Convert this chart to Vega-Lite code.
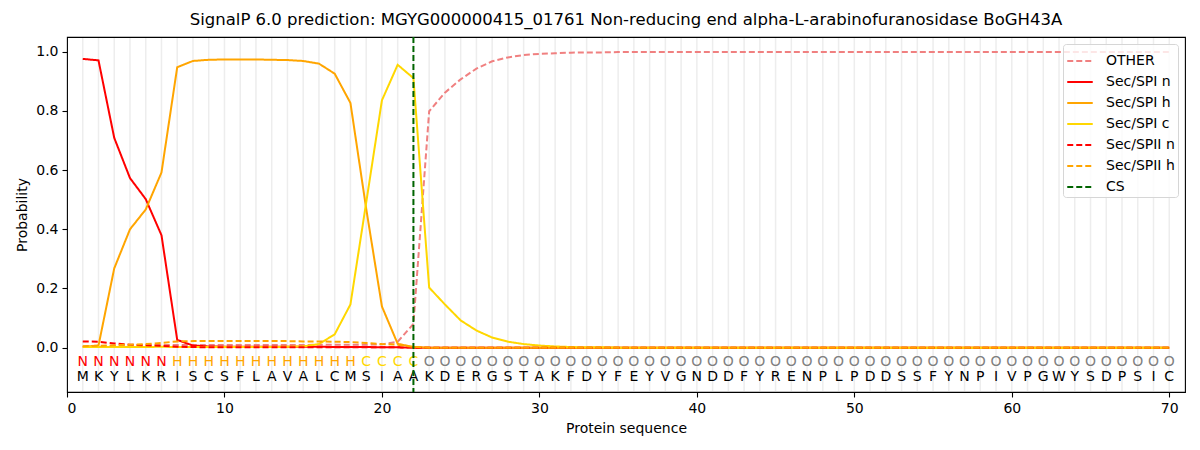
{
  "$schema": "https://vega.github.io/schema/vega-lite/v6.json",
  "width": 1118,
  "height": 355,
  "autosize": {"type": "none"},
  "padding": {"left": 67, "top": 37, "right": 15, "bottom": 58},
  "background": "white",
  "config": {
    "font": "DejaVu Sans",
    "view": {"stroke": "black", "strokeWidth": 1.1},
    "axis": {
      "domain": false,
      "grid": false,
      "labelFont": "DejaVu Sans",
      "labelFontSize": 14,
      "labelColor": "black",
      "titleFont": "DejaVu Sans",
      "titleFontSize": 14,
      "titleFontWeight": "normal",
      "titleColor": "black",
      "tickColor": "black",
      "tickSize": 5,
      "tickWidth": 1.1,
      "labelPadding": 4
    },
    "legend": {
      "title": null,
      "orient": "top-right",
      "offset": 7,
      "padding": 3,
      "strokeColor": "#d6d6d6",
      "cornerRadius": 3,
      "fillColor": "rgba(255,255,255,0.8)",
      "labelFont": "DejaVu Sans",
      "labelFontSize": 14,
      "labelColor": "black",
      "labelOffset": 12,
      "symbolType": "stroke",
      "symbolSize": 650,
      "symbolStrokeWidth": 2,
      "rowPadding": 0
    }
  },
  "title": {
    "text": "SignalP 6.0 prediction: MGYG000000415_01761 Non-reducing end alpha-L-arabinofuranosidase BoGH43A",
    "font": "DejaVu Sans",
    "fontSize": 16.5,
    "fontWeight": "normal",
    "color": "black",
    "anchor": "middle",
    "offset": 8
  },
  "datasets": {
    "residues": [
      {"pos": 1, "aa": "M", "cls": "N", "OTHER": 0.003, "Sec/SPI n": 0.976, "Sec/SPI h": 0.003, "Sec/SPI c": 0.002, "Sec/SPII n": 0.021, "Sec/SPII h": 0.005},
      {"pos": 2, "aa": "K", "cls": "N", "OTHER": 0.004, "Sec/SPI n": 0.971, "Sec/SPI h": 0.007, "Sec/SPI c": 0.002, "Sec/SPII n": 0.020, "Sec/SPII h": 0.006},
      {"pos": 3, "aa": "Y", "cls": "N", "OTHER": 0.006, "Sec/SPI n": 0.709, "Sec/SPI h": 0.268, "Sec/SPI c": 0.002, "Sec/SPII n": 0.014, "Sec/SPII h": 0.008},
      {"pos": 4, "aa": "L", "cls": "N", "OTHER": 0.007, "Sec/SPI n": 0.573, "Sec/SPI h": 0.400, "Sec/SPI c": 0.002, "Sec/SPII n": 0.010, "Sec/SPII h": 0.010},
      {"pos": 5, "aa": "K", "cls": "N", "OTHER": 0.008, "Sec/SPI n": 0.502, "Sec/SPI h": 0.467, "Sec/SPI c": 0.002, "Sec/SPII n": 0.008, "Sec/SPII h": 0.012},
      {"pos": 6, "aa": "R", "cls": "N", "OTHER": 0.009, "Sec/SPI n": 0.380, "Sec/SPI h": 0.592, "Sec/SPI c": 0.003, "Sec/SPII n": 0.006, "Sec/SPII h": 0.016},
      {"pos": 7, "aa": "I", "cls": "H", "OTHER": 0.009, "Sec/SPI n": 0.026, "Sec/SPI h": 0.948, "Sec/SPI c": 0.002, "Sec/SPII n": 0.003, "Sec/SPII h": 0.021},
      {"pos": 8, "aa": "S", "cls": "H", "OTHER": 0.009, "Sec/SPI n": 0.007, "Sec/SPI h": 0.969, "Sec/SPI c": 0.002, "Sec/SPII n": 0.002, "Sec/SPII h": 0.022},
      {"pos": 9, "aa": "C", "cls": "H", "OTHER": 0.009, "Sec/SPI n": 0.004, "Sec/SPI h": 0.973, "Sec/SPI c": 0.002, "Sec/SPII n": 0.001, "Sec/SPII h": 0.022},
      {"pos": 10, "aa": "S", "cls": "H", "OTHER": 0.009, "Sec/SPI n": 0.003, "Sec/SPI h": 0.974, "Sec/SPI c": 0.002, "Sec/SPII n": 0.001, "Sec/SPII h": 0.022},
      {"pos": 11, "aa": "F", "cls": "H", "OTHER": 0.009, "Sec/SPI n": 0.003, "Sec/SPI h": 0.974, "Sec/SPI c": 0.002, "Sec/SPII n": 0.001, "Sec/SPII h": 0.022},
      {"pos": 12, "aa": "L", "cls": "H", "OTHER": 0.009, "Sec/SPI n": 0.003, "Sec/SPI h": 0.974, "Sec/SPI c": 0.002, "Sec/SPII n": 0.001, "Sec/SPII h": 0.022},
      {"pos": 13, "aa": "A", "cls": "H", "OTHER": 0.009, "Sec/SPI n": 0.003, "Sec/SPI h": 0.973, "Sec/SPI c": 0.002, "Sec/SPII n": 0.001, "Sec/SPII h": 0.022},
      {"pos": 14, "aa": "V", "cls": "H", "OTHER": 0.009, "Sec/SPI n": 0.003, "Sec/SPI h": 0.972, "Sec/SPI c": 0.003, "Sec/SPII n": 0.001, "Sec/SPII h": 0.022},
      {"pos": 15, "aa": "A", "cls": "H", "OTHER": 0.009, "Sec/SPI n": 0.003, "Sec/SPI h": 0.969, "Sec/SPI c": 0.004, "Sec/SPII n": 0.001, "Sec/SPII h": 0.021},
      {"pos": 16, "aa": "L", "cls": "H", "OTHER": 0.010, "Sec/SPI n": 0.003, "Sec/SPI h": 0.960, "Sec/SPI c": 0.012, "Sec/SPII n": 0.001, "Sec/SPII h": 0.021},
      {"pos": 17, "aa": "C", "cls": "H", "OTHER": 0.010, "Sec/SPI n": 0.002, "Sec/SPI h": 0.926, "Sec/SPI c": 0.045, "Sec/SPII n": 0.001, "Sec/SPII h": 0.020},
      {"pos": 18, "aa": "M", "cls": "H", "OTHER": 0.010, "Sec/SPI n": 0.002, "Sec/SPI h": 0.827, "Sec/SPI c": 0.146, "Sec/SPII n": 0.001, "Sec/SPII h": 0.019},
      {"pos": 19, "aa": "S", "cls": "C", "OTHER": 0.010, "Sec/SPI n": 0.002, "Sec/SPI h": 0.470, "Sec/SPI c": 0.490, "Sec/SPII n": 0.001, "Sec/SPII h": 0.016},
      {"pos": 20, "aa": "I", "cls": "C", "OTHER": 0.011, "Sec/SPI n": 0.001, "Sec/SPI h": 0.139, "Sec/SPI c": 0.836, "Sec/SPII n": 0.001, "Sec/SPII h": 0.012},
      {"pos": 21, "aa": "A", "cls": "C", "OTHER": 0.020, "Sec/SPI n": 0.001, "Sec/SPI h": 0.013, "Sec/SPI c": 0.956, "Sec/SPII n": 0.001, "Sec/SPII h": 0.010},
      {"pos": 22, "aa": "A", "cls": "C", "OTHER": 0.080, "Sec/SPI n": 0.000, "Sec/SPI h": 0.002, "Sec/SPI c": 0.911, "Sec/SPII n": 0.000, "Sec/SPII h": 0.002},
      {"pos": 23, "aa": "K", "cls": "O", "OTHER": 0.799, "Sec/SPI n": 0, "Sec/SPI h": 0, "Sec/SPI c": 0.203, "Sec/SPII n": 0, "Sec/SPII h": 0},
      {"pos": 24, "aa": "D", "cls": "O", "OTHER": 0.862, "Sec/SPI n": 0, "Sec/SPI h": 0, "Sec/SPI c": 0.146, "Sec/SPII n": 0, "Sec/SPII h": 0},
      {"pos": 25, "aa": "E", "cls": "O", "OTHER": 0.907, "Sec/SPI n": 0, "Sec/SPI h": 0, "Sec/SPI c": 0.092, "Sec/SPII n": 0, "Sec/SPII h": 0},
      {"pos": 26, "aa": "R", "cls": "O", "OTHER": 0.943, "Sec/SPI n": 0, "Sec/SPI h": 0, "Sec/SPI c": 0.058, "Sec/SPII n": 0, "Sec/SPII h": 0},
      {"pos": 27, "aa": "G", "cls": "O", "OTHER": 0.968, "Sec/SPI n": 0, "Sec/SPI h": 0, "Sec/SPI c": 0.034, "Sec/SPII n": 0, "Sec/SPII h": 0},
      {"pos": 28, "aa": "S", "cls": "O", "OTHER": 0.981, "Sec/SPI n": 0, "Sec/SPI h": 0, "Sec/SPI c": 0.020, "Sec/SPII n": 0, "Sec/SPII h": 0},
      {"pos": 29, "aa": "T", "cls": "O", "OTHER": 0.989, "Sec/SPI n": 0, "Sec/SPI h": 0, "Sec/SPI c": 0.012, "Sec/SPII n": 0, "Sec/SPII h": 0},
      {"pos": 30, "aa": "A", "cls": "O", "OTHER": 0.993, "Sec/SPI n": 0, "Sec/SPI h": 0, "Sec/SPI c": 0.007, "Sec/SPII n": 0, "Sec/SPII h": 0},
      {"pos": 31, "aa": "K", "cls": "O", "OTHER": 0.995, "Sec/SPI n": 0, "Sec/SPI h": 0, "Sec/SPI c": 0.004, "Sec/SPII n": 0, "Sec/SPII h": 0},
      {"pos": 32, "aa": "F", "cls": "O", "OTHER": 0.997, "Sec/SPI n": 0, "Sec/SPI h": 0, "Sec/SPI c": 0.002, "Sec/SPII n": 0, "Sec/SPII h": 0},
      {"pos": 33, "aa": "D", "cls": "O", "OTHER": 0.998, "Sec/SPI n": 0, "Sec/SPI h": 0, "Sec/SPI c": 0.001, "Sec/SPII n": 0, "Sec/SPII h": 0},
      {"pos": 34, "aa": "Y", "cls": "O", "OTHER": 0.998, "Sec/SPI n": 0, "Sec/SPI h": 0, "Sec/SPI c": 0.001, "Sec/SPII n": 0, "Sec/SPII h": 0},
      {"pos": 35, "aa": "F", "cls": "O", "OTHER": 0.999, "Sec/SPI n": 0, "Sec/SPI h": 0, "Sec/SPI c": 0, "Sec/SPII n": 0, "Sec/SPII h": 0},
      {"pos": 36, "aa": "E", "cls": "O", "OTHER": 0.999, "Sec/SPI n": 0, "Sec/SPI h": 0, "Sec/SPI c": 0, "Sec/SPII n": 0, "Sec/SPII h": 0},
      {"pos": 37, "aa": "Y", "cls": "O", "OTHER": 0.999, "Sec/SPI n": 0, "Sec/SPI h": 0, "Sec/SPI c": 0, "Sec/SPII n": 0, "Sec/SPII h": 0},
      {"pos": 38, "aa": "V", "cls": "O", "OTHER": 0.999, "Sec/SPI n": 0, "Sec/SPI h": 0, "Sec/SPI c": 0, "Sec/SPII n": 0, "Sec/SPII h": 0},
      {"pos": 39, "aa": "G", "cls": "O", "OTHER": 0.999, "Sec/SPI n": 0, "Sec/SPI h": 0, "Sec/SPI c": 0, "Sec/SPII n": 0, "Sec/SPII h": 0},
      {"pos": 40, "aa": "N", "cls": "O", "OTHER": 0.999, "Sec/SPI n": 0, "Sec/SPI h": 0, "Sec/SPI c": 0, "Sec/SPII n": 0, "Sec/SPII h": 0},
      {"pos": 41, "aa": "D", "cls": "O", "OTHER": 0.999, "Sec/SPI n": 0, "Sec/SPI h": 0, "Sec/SPI c": 0, "Sec/SPII n": 0, "Sec/SPII h": 0},
      {"pos": 42, "aa": "D", "cls": "O", "OTHER": 0.999, "Sec/SPI n": 0, "Sec/SPI h": 0, "Sec/SPI c": 0, "Sec/SPII n": 0, "Sec/SPII h": 0},
      {"pos": 43, "aa": "F", "cls": "O", "OTHER": 0.999, "Sec/SPI n": 0, "Sec/SPI h": 0, "Sec/SPI c": 0, "Sec/SPII n": 0, "Sec/SPII h": 0},
      {"pos": 44, "aa": "Y", "cls": "O", "OTHER": 0.999, "Sec/SPI n": 0, "Sec/SPI h": 0, "Sec/SPI c": 0, "Sec/SPII n": 0, "Sec/SPII h": 0},
      {"pos": 45, "aa": "R", "cls": "O", "OTHER": 0.999, "Sec/SPI n": 0, "Sec/SPI h": 0, "Sec/SPI c": 0, "Sec/SPII n": 0, "Sec/SPII h": 0},
      {"pos": 46, "aa": "E", "cls": "O", "OTHER": 0.999, "Sec/SPI n": 0, "Sec/SPI h": 0, "Sec/SPI c": 0, "Sec/SPII n": 0, "Sec/SPII h": 0},
      {"pos": 47, "aa": "N", "cls": "O", "OTHER": 0.999, "Sec/SPI n": 0, "Sec/SPI h": 0, "Sec/SPI c": 0, "Sec/SPII n": 0, "Sec/SPII h": 0},
      {"pos": 48, "aa": "P", "cls": "O", "OTHER": 0.999, "Sec/SPI n": 0, "Sec/SPI h": 0, "Sec/SPI c": 0, "Sec/SPII n": 0, "Sec/SPII h": 0},
      {"pos": 49, "aa": "L", "cls": "O", "OTHER": 0.999, "Sec/SPI n": 0, "Sec/SPI h": 0, "Sec/SPI c": 0, "Sec/SPII n": 0, "Sec/SPII h": 0},
      {"pos": 50, "aa": "P", "cls": "O", "OTHER": 0.999, "Sec/SPI n": 0, "Sec/SPI h": 0, "Sec/SPI c": 0, "Sec/SPII n": 0, "Sec/SPII h": 0},
      {"pos": 51, "aa": "D", "cls": "O", "OTHER": 0.999, "Sec/SPI n": 0, "Sec/SPI h": 0, "Sec/SPI c": 0, "Sec/SPII n": 0, "Sec/SPII h": 0},
      {"pos": 52, "aa": "D", "cls": "O", "OTHER": 0.999, "Sec/SPI n": 0, "Sec/SPI h": 0, "Sec/SPI c": 0, "Sec/SPII n": 0, "Sec/SPII h": 0},
      {"pos": 53, "aa": "S", "cls": "O", "OTHER": 0.999, "Sec/SPI n": 0, "Sec/SPI h": 0, "Sec/SPI c": 0, "Sec/SPII n": 0, "Sec/SPII h": 0},
      {"pos": 54, "aa": "S", "cls": "O", "OTHER": 0.999, "Sec/SPI n": 0, "Sec/SPI h": 0, "Sec/SPI c": 0, "Sec/SPII n": 0, "Sec/SPII h": 0},
      {"pos": 55, "aa": "F", "cls": "O", "OTHER": 0.999, "Sec/SPI n": 0, "Sec/SPI h": 0, "Sec/SPI c": 0, "Sec/SPII n": 0, "Sec/SPII h": 0},
      {"pos": 56, "aa": "Y", "cls": "O", "OTHER": 0.999, "Sec/SPI n": 0, "Sec/SPI h": 0, "Sec/SPI c": 0, "Sec/SPII n": 0, "Sec/SPII h": 0},
      {"pos": 57, "aa": "N", "cls": "O", "OTHER": 0.999, "Sec/SPI n": 0, "Sec/SPI h": 0, "Sec/SPI c": 0, "Sec/SPII n": 0, "Sec/SPII h": 0},
      {"pos": 58, "aa": "P", "cls": "O", "OTHER": 0.999, "Sec/SPI n": 0, "Sec/SPI h": 0, "Sec/SPI c": 0, "Sec/SPII n": 0, "Sec/SPII h": 0},
      {"pos": 59, "aa": "I", "cls": "O", "OTHER": 0.999, "Sec/SPI n": 0, "Sec/SPI h": 0, "Sec/SPI c": 0, "Sec/SPII n": 0, "Sec/SPII h": 0},
      {"pos": 60, "aa": "V", "cls": "O", "OTHER": 0.999, "Sec/SPI n": 0, "Sec/SPI h": 0, "Sec/SPI c": 0, "Sec/SPII n": 0, "Sec/SPII h": 0},
      {"pos": 61, "aa": "P", "cls": "O", "OTHER": 0.999, "Sec/SPI n": 0, "Sec/SPI h": 0, "Sec/SPI c": 0, "Sec/SPII n": 0, "Sec/SPII h": 0},
      {"pos": 62, "aa": "G", "cls": "O", "OTHER": 0.999, "Sec/SPI n": 0, "Sec/SPI h": 0, "Sec/SPI c": 0, "Sec/SPII n": 0, "Sec/SPII h": 0},
      {"pos": 63, "aa": "W", "cls": "O", "OTHER": 0.999, "Sec/SPI n": 0, "Sec/SPI h": 0, "Sec/SPI c": 0, "Sec/SPII n": 0, "Sec/SPII h": 0},
      {"pos": 64, "aa": "Y", "cls": "O", "OTHER": 0.999, "Sec/SPI n": 0, "Sec/SPI h": 0, "Sec/SPI c": 0, "Sec/SPII n": 0, "Sec/SPII h": 0},
      {"pos": 65, "aa": "S", "cls": "O", "OTHER": 0.999, "Sec/SPI n": 0, "Sec/SPI h": 0, "Sec/SPI c": 0, "Sec/SPII n": 0, "Sec/SPII h": 0},
      {"pos": 66, "aa": "D", "cls": "O", "OTHER": 0.999, "Sec/SPI n": 0, "Sec/SPI h": 0, "Sec/SPI c": 0, "Sec/SPII n": 0, "Sec/SPII h": 0},
      {"pos": 67, "aa": "P", "cls": "O", "OTHER": 0.999, "Sec/SPI n": 0, "Sec/SPI h": 0, "Sec/SPI c": 0, "Sec/SPII n": 0, "Sec/SPII h": 0},
      {"pos": 68, "aa": "S", "cls": "O", "OTHER": 0.999, "Sec/SPI n": 0, "Sec/SPI h": 0, "Sec/SPI c": 0, "Sec/SPII n": 0, "Sec/SPII h": 0},
      {"pos": 69, "aa": "I", "cls": "O", "OTHER": 0.999, "Sec/SPI n": 0, "Sec/SPI h": 0, "Sec/SPI c": 0, "Sec/SPII n": 0, "Sec/SPII h": 0},
      {"pos": 70, "aa": "C", "cls": "O", "OTHER": 0.999, "Sec/SPI n": 0, "Sec/SPI h": 0, "Sec/SPI c": 0, "Sec/SPII n": 0, "Sec/SPII h": 0}
    ],
    "cleavage": [
      {"pos": 22, "series": "CS"}
    ]
  },
  "data": {"name": "residues"},
  "encoding": {
    "x": {
      "field": "pos",
      "type": "quantitative",
      "scale": {"domain": [0, 71], "nice": false, "zero": false},
      "axis": {"title": "Protein sequence", "values": [0, 10, 20, 30, 40, 50, 60, 70], "titlePadding": 6}
    }
  },
  "layer": [
    {
      "mark": {"type": "rule", "color": "#ededed", "strokeWidth": 1.5},
      "encoding": {
        "y": {"datum": -0.1465, "type": "quantitative"},
        "y2": {"datum": 1.0465}
      }
    },
    {
      "mark": {"type": "text", "fontSize": 14, "baseline": "middle", "align": "center"},
      "encoding": {
        "y": {"datum": -0.05, "type": "quantitative"},
        "text": {"field": "cls"},
        "fill": {
          "field": "cls",
          "type": "nominal",
          "scale": {"domain": ["N", "H", "C", "O"], "range": ["#ff0000", "#ffa500", "#ffd700", "#808080"]},
          "legend": null
        }
      }
    },
    {
      "mark": {"type": "text", "fontSize": 14, "baseline": "middle", "align": "center", "color": "black"},
      "encoding": {
        "y": {"datum": -0.1, "type": "quantitative"},
        "text": {"field": "aa"}
      }
    },
    {
      "layer": [
        {
          "transform": [
            {"fold": ["OTHER", "Sec/SPI n", "Sec/SPI h", "Sec/SPI c", "Sec/SPII n", "Sec/SPII h"], "as": ["series", "p"]}
          ],
          "mark": {"type": "line", "strokeWidth": 2},
          "encoding": {
            "y": {
              "field": "p",
              "type": "quantitative",
              "scale": {"domain": [-0.15, 1.05], "nice": false, "zero": false},
              "axis": {"title": "Probability", "values": [0, 0.2, 0.4, 0.6, 0.8, 1.0], "format": ".1f", "titlePadding": 6}
            }
          }
        },
        {
          "data": {"name": "cleavage"},
          "mark": {"type": "rule", "strokeWidth": 2},
          "encoding": {}
        }
      ],
      "encoding": {
        "color": {
          "field": "series",
          "type": "nominal",
          "scale": {
            "domain": ["OTHER", "Sec/SPI n", "Sec/SPI h", "Sec/SPI c", "Sec/SPII n", "Sec/SPII h", "CS"],
            "range": ["#f08080", "#ff0000", "#ffa500", "#ffd700", "#ff0000", "#ffa500", "#006400"]
          }
        },
        "strokeDash": {
          "field": "series",
          "type": "nominal",
          "scale": {
            "domain": ["OTHER", "Sec/SPI n", "Sec/SPI h", "Sec/SPI c", "Sec/SPII n", "Sec/SPII h", "CS"],
            "range": [[6, 3], [1, 0], [1, 0], [1, 0], [6, 3], [6, 3], [6, 3]]
          }
        }
      }
    }
  ]
}
